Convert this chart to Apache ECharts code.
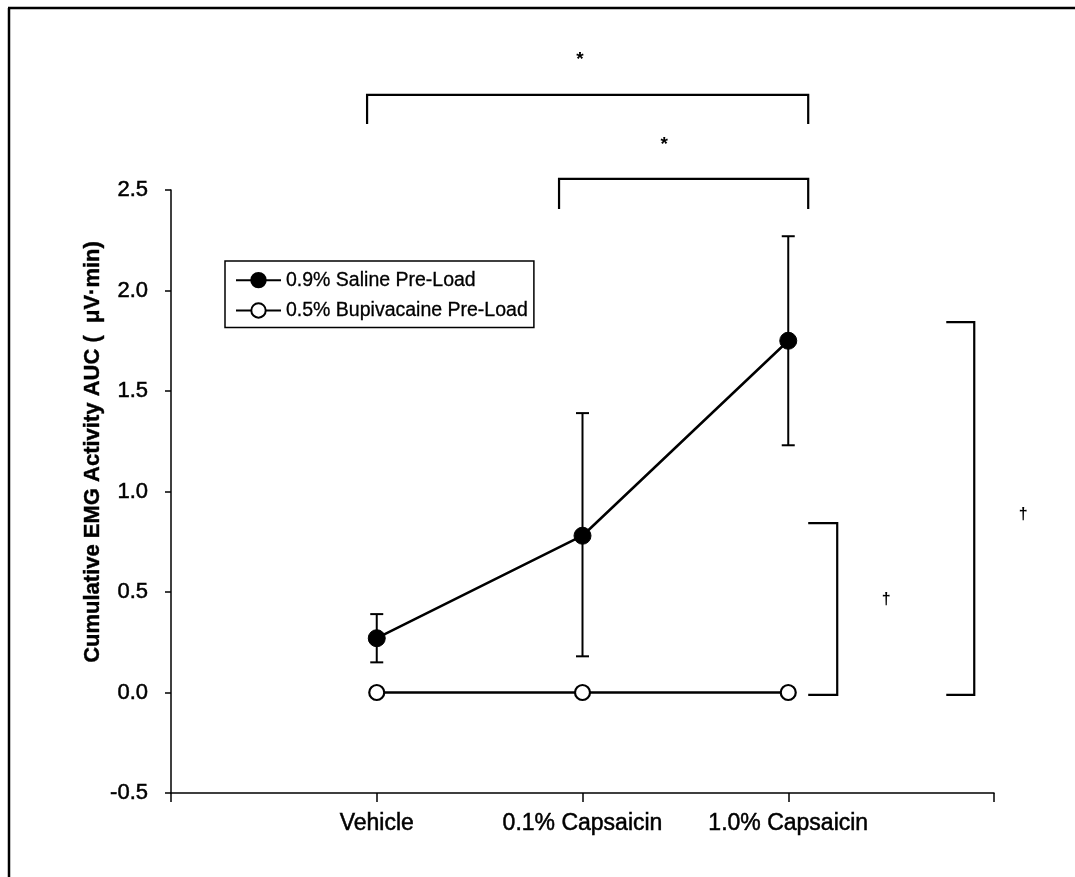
<!DOCTYPE html>
<html>
<head>
<meta charset="utf-8">
<script src="https://cdn.jsdelivr.net/npm/echarts@6/dist/echarts.min.js"></script>
<style>
html,body{margin:0;padding:0;background:#fff;}
#chart{width:1075px;height:877px;}
</style>
</head>
<body>
<div id="chart"></div>
<script>
// ---- data ----
const categories = ['Vehicle', '0.1% Capsaicin', '1.0% Capsaicin'];
const categoryPos = [1, 2, 3];
const salineMean = [0.27, 0.78, 1.75];
const salineUpper = [0.39, 1.39, 2.27];
const salineLower = [0.15, 0.18, 1.23];
const bupiMean = [0.0, 0.0, 0.0];
const yTicks = [-0.5, 0.0, 0.5, 1.0, 1.5, 2.0, 2.5];
const seriesNames = ['0.9% Saline Pre-Load', '0.5% Bupivacaine Pre-Load'];
const yTitle = 'Cumulative EMG Activity AUC (  \u03BCV\u00B7min)';

// significance brackets (data coordinates)
const bracketTopAll = [[0.953, 2.828], [0.953, 2.973], [3.097, 2.973], [3.097, 2.828]];
const bracketTopPair = [[1.886, 2.405], [1.886, 2.555], [3.097, 2.555], [3.097, 2.405]];
const bracketRightA = [[3.097, 0.843], [3.238, 0.843], [3.238, -0.012], [3.097, -0.012]];
const bracketRightB = [[3.768, 1.843], [3.904, 1.843], [3.904, -0.012], [3.768, -0.012]];
const brackets = [bracketTopAll, bracketTopPair, bracketRightA, bracketRightB];
const markText = ['*', '*', '\u2020', '\u2020'];
const markPos = [[1.988, 3.15], [2.397, 2.727], [3.476, 0.46], [4.142, 0.883]];

const chart = echarts.init(document.getElementById('chart'), null, {renderer: 'canvas'});
const FONT = 'Liberation Sans, Arial, Helvetica, sans-serif';

const option = {
  backgroundColor: '#fff',
  animation: false,
  grid: {left: 171, right: 81, top: 190, bottom: 84, containLabel: false},
  xAxis: {
    type: 'value', min: 0, max: 4, interval: 1,
    axisLine: {show: true, onZero: false, lineStyle: {color: '#000', width: 1.5}},
    axisTick: {show: true, inside: false, length: 9, lineStyle: {color: '#000', width: 1.5}},
    splitLine: {show: false},
    axisLabel: {
      margin: 19, color: '#000', fontFamily: FONT, fontSize: 23,
      textBorderColor: '#000', textBorderWidth: 0.5,
      formatter: v => { const i = categoryPos.indexOf(v); return i >= 0 ? categories[i] : ''; }
    }
  },
  yAxis: {
    type: 'value', min: yTicks[0], max: yTicks[yTicks.length - 1], interval: 0.5,
    axisLine: {show: true, onZero: false, lineStyle: {color: '#000', width: 1.5}},
    axisTick: {show: true, inside: false, length: 6, lineStyle: {color: '#000', width: 1.5}},
    splitLine: {show: false},
    axisLabel: {margin: 23, color: '#000', fontFamily: FONT, fontSize: 22,
      textBorderColor: '#000', textBorderWidth: 0.5, formatter: v => v.toFixed(1)}
  },
  legend: {
    left: 225, top: 261, orient: 'vertical',
    padding: [9, 6, 7, 10],
    borderColor: '#000', borderWidth: 1.5, backgroundColor: '#fff',
    itemWidth: 45, itemHeight: 18, itemGap: 10, itemTextGap: 8,
    textStyle: {color: '#000', fontFamily: FONT, fontSize: 19.5, lineHeight: 20,
      textBorderColor: '#000', textBorderWidth: 0.3},
    data: seriesNames
  },
  graphic: [
    {type: 'line', shape: {x1: 9, y1: 8, x2: 9, y2: 877}, style: {stroke: '#000', lineWidth: 2.5}},
    {type: 'line', shape: {x1: 8, y1: 8, x2: 1075, y2: 8}, style: {stroke: '#000', lineWidth: 2.5}},
    {type: 'text', x: 93, y: 452, rotation: Math.PI / 2,
     style: {text: yTitle, fill: '#000', font: 'bold 22px ' + FONT, align: 'center', verticalAlign: 'middle',
       stroke: '#000', lineWidth: 0.4}}
  ],
  series: [
    {
      name: 'errbars', type: 'custom', z: 3, clip: false, silent: true,
      data: categoryPos.map((x, i) => [x, salineLower[i], salineUpper[i]]),
      renderItem: function (params, api) {
        const x = api.value(0);
        const lo = api.coord([x, api.value(1)]);
        const hi = api.coord([x, api.value(2)]);
        const hw = 6.5;
        const st = {stroke: '#000', lineWidth: 2};
        return {type: 'group', children: [
          {type: 'line', shape: {x1: lo[0], y1: lo[1], x2: hi[0], y2: hi[1]}, style: st},
          {type: 'line', shape: {x1: hi[0] - hw, y1: hi[1], x2: hi[0] + hw, y2: hi[1]}, style: st},
          {type: 'line', shape: {x1: lo[0] - hw, y1: lo[1], x2: lo[0] + hw, y2: lo[1]}, style: st}
        ]};
      }
    },
    {
      name: seriesNames[0], type: 'line', z: 5,
      data: categoryPos.map((x, i) => [x, salineMean[i]]),
      symbol: 'circle', symbolSize: 17,
      lineStyle: {color: '#000', width: 2.5},
      itemStyle: {color: '#000', borderColor: '#000', borderWidth: 1}
    },
    {
      name: seriesNames[1], type: 'line', z: 5,
      data: categoryPos.map((x, i) => [x, bupiMean[i]]),
      symbol: 'circle', symbolSize: 15,
      lineStyle: {color: '#000', width: 2.5},
      itemStyle: {color: '#fff', borderColor: '#000', borderWidth: 2.2}
    },
    {
      name: 'brackets', type: 'custom', z: 4, clip: false, silent: true,
      data: brackets.map(b => b[0]),
      renderItem: function (params, api) {
        const pts = brackets[params.dataIndex].map(p => api.coord(p));
        return {type: 'polyline', shape: {points: pts}, style: {stroke: '#000', lineWidth: 2.2, fill: null}};
      }
    },
    {
      name: 'marks', type: 'custom', z: 4, clip: false, silent: true,
      data: markPos,
      renderItem: function (params, api) {
        const p = api.coord([api.value(0), api.value(1)]);
        const isStar = markText[params.dataIndex] === '*';
        return {type: 'text', x: p[0], y: p[1],
          style: {text: markText[params.dataIndex], fill: '#000',
            font: 'bold ' + (isStar ? 19 : 16) + 'px ' + FONT, align: 'center', verticalAlign: 'middle'}};
      }
    }
  ]
};
chart.setOption(option);
</script>
</body>
</html>
